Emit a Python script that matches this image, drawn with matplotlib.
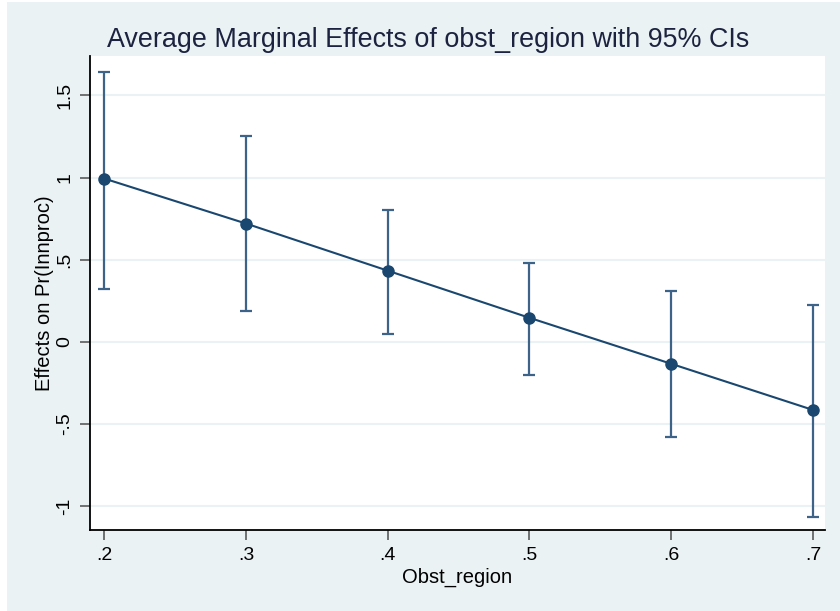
import matplotlib
matplotlib.use('Agg')
import matplotlib.pyplot as plt
from matplotlib.patches import Rectangle

# values read from the Stata marginsplot
obst_region = [0.2, 0.3, 0.4, 0.5, 0.6, 0.7]
effects = [0.994, 0.72, 0.433, 0.146, -0.134, -0.415]
ci_upper = [1.642, 1.25, 0.805, 0.48, 0.31, 0.226]
ci_lower = [0.323, 0.19, 0.05, -0.20, -0.58, -1.065]

x_ticks = [0.2, 0.3, 0.4, 0.5, 0.6, 0.7]
x_labels = ['.2', '.3', '.4', '.5', '.6', '.7']
y_ticks = [-1, -0.5, 0, 0.5, 1, 1.5]
y_labels = ['-1', '-.5', '0', '.5', '1', '1.5']

navy = '#1a476f'
bg = '#eaf2f3'

plt.rcParams['font.family'] = ['Liberation Sans', 'DejaVu Sans']

fig = plt.figure(figsize=(8.4, 6.11), dpi=100)
fig.patch.set_facecolor('white')
fig.patches.append(Rectangle((7 / 840, 0), 1, 1 - 2 / 611, transform=fig.transFigure,
                             facecolor=bg, edgecolor='none', zorder=-10))

ax = fig.add_axes([90 / 840, 81 / 611, 735 / 840, 474 / 611])
ax.set_facecolor('white')

yerr = [[e - lo for e, lo in zip(effects, ci_lower)],
        [hi - e for e, hi in zip(effects, ci_upper)]]
ax.errorbar(obst_region, effects, yerr=yerr, fmt='none', ecolor='#3d6388',
            elinewidth=1.6, capsize=4.5, capthick=1.6, zorder=2)
ax.plot(obst_region, effects, color=navy, linewidth=1.5, marker='o',
        markersize=8, markerfacecolor=navy, markeredgecolor=navy, zorder=3)

ax.set_xlim(0.190, 0.7085)
ax.set_ylim(-1.146, 1.74)
ax.set_xticks(x_ticks)
ax.set_xticklabels(x_labels, fontsize=14)
ax.set_yticks(y_ticks)
ax.set_yticklabels(y_labels, fontsize=14, rotation=90, va='center')

ax.grid(True, axis='y', color=bg, linewidth=1.5, zorder=0)
ax.set_axisbelow(True)
ax.tick_params(axis='both', direction='out', length=7, width=1.3, color='#666666', pad=5)
ax.spines['top'].set_visible(False)
ax.spines['right'].set_visible(False)
ax.spines['left'].set_linewidth(1.3)
ax.spines['bottom'].set_linewidth(1.3)

ax.set_xlabel('Obst_region', fontsize=14.5, labelpad=3)
ax.set_ylabel('Effects on Pr(Innproc)', fontsize=14.5, labelpad=2)
fig.text(428 / 840, 1 - 40 / 611, 'Average Marginal Effects of obst_region with 95% CIs',
         fontsize=19.4, color='#1c2340', ha='center', va='center')

plt.savefig('out.png', dpi=100)
